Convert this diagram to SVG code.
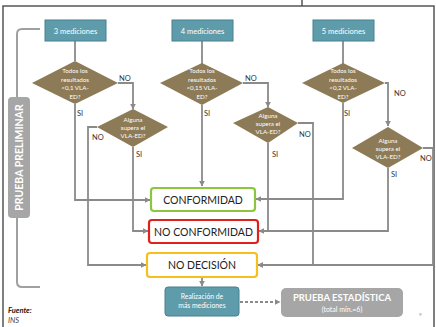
<svg xmlns="http://www.w3.org/2000/svg" width="436" height="327" viewBox="0 0 436 327">
<defs>
<marker id="ah" viewBox="0 0 10 10" refX="9" refY="5" markerWidth="6" markerHeight="6" markerUnits="userSpaceOnUse" orient="auto">
<path d="M0,0 L10,5 L0,10 z" fill="#8a8a8a"/>
</marker>
<style>
.tb{fill:#5f9cab;stroke:#46808f;stroke-width:1}
.tbt{font-family:Lato,"Open Sans",sans-serif;font-size:7.5px;fill:#fff;text-anchor:middle}
.dm{fill:#8d7b57;stroke:none}
.dmt{font-family:Lato,"Open Sans",sans-serif;font-size:6.2px;fill:#fff;text-anchor:middle}
.cn{fill:none;stroke:#8a8a8a;stroke-width:1.8}
.lb{font-family:Lato,"Open Sans",sans-serif;font-size:7.5px;fill:#333}
.res{fill:#fff;stroke-width:2.2}
.rt{font-family:Lato,"Open Sans",sans-serif;font-size:10.5px;fill:#222;text-anchor:middle}
</style>
</defs>
<rect x="0" y="0" width="436" height="327" fill="#fff"/>
<g id="frame">
<path d="M3,327 L3,6 L434,6 L434,327" fill="none" stroke="#555" stroke-width="1.5"/>
<line x1="302" y1="0" x2="302" y2="6" stroke="#555" stroke-width="1.5"/>
</g>
<g id="connectors">
<path class="cn" d="M75,41 L75,61"/>
<path class="cn" d="M118,83 L133,83 L133,109" marker-end="url(#ah)"/>
<path class="cn" d="M75,104 L75,200 L150,200" marker-end="url(#ah)"/>
<path class="cn" d="M97,127 L88,127 L88,265 L146,265" marker-end="url(#ah)"/>
<path class="cn" d="M133,147 L133,231 L148,231" marker-end="url(#ah)"/>
<path class="cn" d="M202,41 L202,65"/>
<path class="cn" d="M243,83 L268,83 L268,107" marker-end="url(#ah)"/>
<path class="cn" d="M202,105 L202,186" marker-end="url(#ah)"/>
<path class="cn" d="M298,123 L313,123 L313,265 L258,265" marker-end="url(#ah)"/>
<path class="cn" d="M268,143 L268,231 L259,231" marker-end="url(#ah)"/>
<path class="cn" d="M343,41 L343,65"/>
<path class="cn" d="M385,83 L388,83 L388,126" marker-end="url(#ah)"/>
<path class="cn" d="M343,103 L343,199 L256,199" marker-end="url(#ah)"/>
<path class="cn" d="M423,148 L433,148 L433,265 L258,265" marker-end="url(#ah)"/>
<path class="cn" d="M388,168 L388,231 L259,231"/>
<path class="cn" d="M202,277 L202,286" marker-end="url(#ah)"/>
<path class="cn" d="M240,302 L280,302" stroke-dasharray="3,2" stroke-width="1.2" marker-end="url(#ah)"/>
</g>
<g id="labels">
<text class="lb" x="119" y="81">NO</text>
<text class="lb" x="77" y="116">SI</text>
<text class="lb" x="92" y="140">NO</text>
<text class="lb" x="136" y="157">SI</text>
<text class="lb" x="245" y="81">NO</text>
<text class="lb" x="204" y="116">SI</text>
<text class="lb" x="299" y="137">NO</text>
<text class="lb" x="272" y="157">SI</text>
<text class="lb" x="394" y="96">NO</text>
<text class="lb" x="344" y="116">SI</text>
<text class="lb" x="420" y="161">NO</text>
<text class="lb" x="391" y="177">SI</text>
</g>
<g id="n3">
<rect class="tb" x="45" y="20" width="61" height="21"/>
<text class="tbt" x="75.5" y="33.5">3 mediciones</text>
</g>
<g id="n4">
<rect class="tb" x="172" y="20" width="61" height="21"/>
<text class="tbt" x="202.5" y="33.5">4 mediciones</text>
</g>
<g id="n5">
<rect class="tb" x="313" y="20" width="61" height="21"/>
<text class="tbt" x="343.5" y="33.5">5 mediciones</text>
</g>
<g id="d1">
<polygon class="dm" points="75,61 118,83 75,104 32,83"/>
<text class="dmt" x="75" y="73">Todos los</text>
<text class="dmt" x="75" y="82">resultados</text>
<text class="dmt" x="75" y="90">&lt;0,1 VLA-</text>
<text class="dmt" x="75" y="99">ED?</text>
</g>
<g id="d2">
<polygon class="dm" points="133,109 168,127 133,147 97,127"/>
<text class="dmt" x="133" y="122">Alguna</text>
<text class="dmt" x="133" y="130">supera el</text>
<text class="dmt" x="133" y="138">VLA-ED?</text>
</g>
<g id="d3">
<polygon class="dm" points="202,63 243,83 202,105 160,83"/>
<text class="dmt" x="202" y="73">Todos los</text>
<text class="dmt" x="202" y="82">resultados</text>
<text class="dmt" x="202" y="90">&lt;0,15 VLA-</text>
<text class="dmt" x="202" y="99">ED?</text>
</g>
<g id="d4">
<polygon class="dm" points="268,107 298,123 268,143 233,123"/>
<text class="dmt" x="268" y="118">Alguna</text>
<text class="dmt" x="268" y="126">supera el</text>
<text class="dmt" x="268" y="134">VLA-ED?</text>
</g>
<g id="d5">
<polygon class="dm" points="343,63 385,83 343,103 302,83"/>
<text class="dmt" x="343" y="73">Todos los</text>
<text class="dmt" x="343" y="82">resultados</text>
<text class="dmt" x="343" y="90">&lt;0,2 VLA-</text>
<text class="dmt" x="343" y="99">ED?</text>
</g>
<g id="d6">
<polygon class="dm" points="388,127 423,148 388,168 352,148"/>
<text class="dmt" x="388" y="143">Alguna</text>
<text class="dmt" x="388" y="151">supera el</text>
<text class="dmt" x="388" y="159">VLA-ED?</text>
</g>
<g id="conformidad">
<rect class="res" x="151" y="188" width="104" height="23" rx="3" stroke="#8cc63e"/>
<text class="rt" x="203" y="203.5">CONFORMIDAD</text>
</g>
<g id="noconformidad">
<rect class="res" x="149" y="220" width="109" height="23" rx="3" stroke="#e0201b"/>
<text class="rt" x="203.5" y="235.5">NO CONFORMIDAD</text>
</g>
<g id="nodecision">
<rect class="res" x="147" y="253" width="110" height="24" rx="3" stroke="#f5c01c"/>
<text class="rt" x="202" y="268.5">NO DECISIÓN</text>
</g>
<g id="realizacion">
<rect x="165" y="287" width="74" height="29" rx="3" fill="#5f9cab" stroke="#46808f" stroke-width="1"/>
<text class="tbt" x="202" y="299" style="font-size:6.8px">Realización de</text>
<text class="tbt" x="202" y="308" style="font-size:6.8px">más mediciones</text>
</g>
<g id="prueba">
<rect x="281" y="288" width="122" height="29" rx="5" fill="#a6a6a6"/>
<text x="342" y="301" text-anchor="middle" font-family="Lato, 'Open Sans', sans-serif" font-size="9.5" font-weight="bold" fill="#fff">PRUEBA ESTADÍSTICA</text>
<text x="342" y="312" text-anchor="middle" font-family="Lato, 'Open Sans', sans-serif" font-size="7" fill="#fff">(total mín.=6)</text>
</g>
<g id="preliminar">
<path d="M40,29 L22,29 Q17,29 17,34 L17,97 M17,218 L17,282 Q17,287 22,287 L40,287" fill="none" stroke="#a0a0a0" stroke-width="2"/>
<rect x="8" y="97" width="22" height="121" rx="4" fill="#a6a6a6"/>
<text x="0" y="0" transform="translate(23,157.5) rotate(-90)" text-anchor="middle" font-family="Lato, 'Open Sans', sans-serif" font-size="10.5" font-weight="bold" fill="#fff">PRUEBA PRELIMINAR</text>
</g>
<g id="fuente">
<text x="8" y="313" font-family="Lato, 'Open Sans', sans-serif" font-size="7.5" font-weight="bold" font-style="italic" fill="#222">Fuente:</text>
<text x="8" y="323" font-family="Lato, 'Open Sans', sans-serif" font-size="7.5" font-style="italic" fill="#444">INS</text>
<text x="419" y="316" font-family="Lato, 'Open Sans', sans-serif" font-size="4.5" fill="#888">9</text>
</g>
</svg>
